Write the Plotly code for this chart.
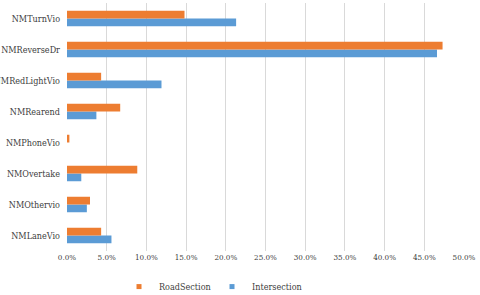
import plotly.graph_objects as go

categories = ["NMLaneVio", "NMOthervio", "NMOvertake", "NMPhoneVio",
              "NMRearend", "NMRedLightVio", "NMReverseDr", "NMTurnVio"]
intersection = [0.056, 0.025, 0.018, 0.0, 0.037, 0.119, 0.466, 0.213]
road_section = [0.043, 0.029, 0.0885, 0.003, 0.067, 0.043, 0.473, 0.148]
tick_vals = [0, 0.05, 0.10, 0.15, 0.20, 0.25, 0.30, 0.35, 0.40, 0.45, 0.50]

font = "DejaVu Serif Condensed"
blue = "#5B9BD5"
orange = "#ED7D31"

fig = go.Figure()
fig.add_trace(go.Bar(y=categories, x=intersection, orientation="h",
                     name="Intersection", showlegend=False, legendgroup="i",
                     marker=dict(color=blue, line=dict(width=0))))
fig.add_trace(go.Bar(y=categories, x=road_section, orientation="h",
                     name="RoadSection", showlegend=False, legendgroup="r",
                     marker=dict(color=orange, line=dict(width=0))))
# legend entries (small square keys)
fig.add_trace(go.Scatter(x=[None], y=[None], mode="markers", name="RoadSection",
                         legendgroup="r", marker=dict(symbol="square", size=5, color=orange)))
fig.add_trace(go.Scatter(x=[None], y=[None], mode="markers", name="Intersection",
                         legendgroup="i", marker=dict(symbol="square", size=5, color=blue)))

fig.update_layout(
    width=480, height=295,
    margin=dict(l=67, r=16, t=3, b=44, autoexpand=False),
    barmode="group", bargap=0.5, bargroupgap=0,
    plot_bgcolor="white", paper_bgcolor="white",
    font=dict(family=font, size=9, color="#404040"),
    xaxis=dict(range=[0, 0.5], tickvals=tick_vals, tickformat=".1%",
               showgrid=True, gridcolor="#D9D9D9", gridwidth=1,
               zeroline=False, showline=False, ticks="", automargin=False,
               tickfont=dict(size=8, family=font, color="#404040")),
    yaxis=dict(type="category", categoryorder="array", categoryarray=categories,
               showgrid=False, zeroline=False, showline=False, ticks="",
               automargin=False, ticklabelstandoff=6,
               tickfont=dict(size=9, family=font, color="#404040")),
    legend=dict(orientation="h", x=0.131, xanchor="left", y=-0.085, yanchor="top",
                traceorder="normal", font=dict(size=9, family=font, color="#404040"),
                itemwidth=30, entrywidth=48, entrywidthmode="pixels"),
    showlegend=True,
)

fig.write_html("out.html", config={"displayModeBar": False},
               post_script="document.body.style.margin='0';document.body.style.overflow='hidden';")
